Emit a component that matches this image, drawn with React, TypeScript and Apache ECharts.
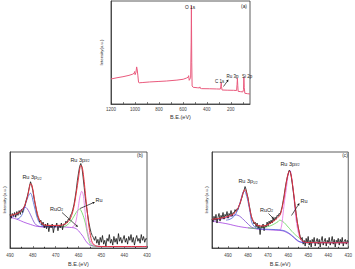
import React, { useEffect, useRef } from "react";
import * as echarts from "echarts";

const FONT = "'Liberation Sans', Arial, sans-serif";

// ---- Panel (a): survey spectrum [B.E. eV, intensity]
const surveyData: [number, number][] = [
  [1200, 24.3], [1150, 25.5], [1100, 26.5], [1050, 27.8], [1018, 29], [1006, 30], [1003, 31.5], [999, 28.5],
  [992, 30.5], [986, 36], [981, 33], [976, 28], [970, 21], [965, 20.6], [940, 20.8], [878, 21.4], [800, 21.9],
  [738, 22.3], [650, 23.2], [598, 24], [570, 25.2], [556, 26], [552, 27.5], [547, 23], [540, 24.5], [535, 26],
  [531, 60], [529, 95], [526, 40], [523, 17.5], [514, 16.2], [480, 15.8], [462, 15.6], [458, 16.6], [455, 15.3],
  [444, 14.9], [380, 14.8], [318, 14.6], [288, 14.5], [284, 16.5], [280, 20.7], [278, 17], [273, 13.6], [230, 13.4],
  [178, 13.3], [152, 13.1], [148, 19], [145, 25], [142, 18], [139, 12.3], [120, 12], [100, 11.7], [94, 14], [91, 26],
  [88, 16], [83, 10.4], [60, 10], [40, 9.7],
];
const surveyTicks = [200, 400, 600, 800, 1000, 1200];
const surveyMinorTicks = [100, 200, 300, 400, 500, 600, 700, 800, 900, 1000, 1100, 1200];

// ---- Panel (b): Ru 3p, raw counts from 490 eV down to 430 eV every 0.5 eV
const bStart = 490;
const bRaw = [
  35, 31, 36, 33, 37, 32, 38, 34, 39, 35,
  40, 37, 42, 44, 49, 53, 58, 64, 69, 65,
  60, 52, 46, 40, 34, 31, 27, 29, 24, 27,
  21, 25, 20, 26, 17, 24, 21, 25, 16, 23,
  22, 26, 18, 24, 21, 26, 19, 25, 24, 28,
  26, 30, 29, 34, 36, 40, 45, 52, 60, 70,
  78, 85, 88, 84, 74, 63, 52, 43, 35, 27,
  21, 16, 13, 11, 8, 12, 5, 9, 3, 11,
  6, 13, 4, 8, 2, 10, 7, 14, 5, 9,
  3, 12, 6, 10, 4, 15, 7, 11, 5, 9,
  13, 6, 10, 4, 12, 8, 14, 6, 11, 3,
  9, 13, 7, 10, 5, 14, 8, 12, 6, 10,
  9,
];
const bEnvelope: [number, number][] = [
  [490, 34], [488, 35], [486, 37], [485, 39], [484, 42], [483, 48], [482, 57], [481.5, 63], [481, 67], [480.5, 66],
  [480, 61], [479.5, 54], [479, 47], [478, 36], [477, 29], [476, 25.5], [475, 24], [472, 23.5], [469, 23.5], [467, 24],
  [466, 25], [465, 26.5], [464, 29], [463, 34], [462, 43], [461, 57], [460, 73], [459.4, 83], [458.9, 86], [458.4, 84],
  [458, 79], [457.5, 69], [457, 57], [456.5, 45], [456, 34], [455.5, 24], [455, 16], [454.5, 10], [454, 6], [453, 3],
  [452, 2], [450, 1.6], [440, 1.5], [430, 1.5],
];
const bBackground: [number, number][] = [
  [490, 32], [487, 30], [484, 27], [481, 24.5], [478, 22.5], [474, 22], [468, 22], [464, 21.5], [462, 21], [461, 20],
  [460, 18], [459, 15], [458, 12], [457, 8], [456, 5], [455, 3], [453, 2], [450, 1.5], [440, 1.5], [430, 1.5],
];
const bRu12: [number, number][] = [
  [487, 30], [485.5, 32], [484.5, 36], [483.5, 43], [482.5, 51], [481.5, 56], [481, 57], [480.5, 55], [480, 50],
  [479, 40], [478, 31], [477, 26], [476, 23.5], [474, 22.5], [470, 22],
];
const bRuO2_12: [number, number][] = [
  [490, 32], [488, 33], [486.5, 36], [485, 40], [484, 42], [483.4, 42.5], [482.5, 41], [481.5, 37], [480.5, 32],
  [479.5, 27], [478.5, 24], [477, 22.5], [474, 22],
];
const bRuO2_32: [number, number][] = [
  [468, 22], [466, 22.5], [465, 24], [464, 26], [463, 29], [462, 33], [461, 37], [460, 40], [459.5, 40.5], [459, 39.5],
  [458, 34], [457, 26], [456.5, 20], [456, 14], [455.5, 9], [455, 5], [454, 2.5], [452, 1.8],
];
const bRu32: [number, number][] = [
  [463, 21.5], [462, 23], [461.5, 25], [461, 29], [460.5, 36], [460, 44], [459.5, 52], [459, 57], [458.6, 59], [458, 56],
  [457.5, 47], [457, 35], [456.5, 24], [456, 17], [455.5, 12], [455, 8], [454, 4], [453, 2.2],
];

// ---- Panel (c): Ru 3p, raw counts from 498 eV down to 430 eV every 0.5 eV
const cStart = 498;
const cRaw = [
  30, 27, 33, 29, 35, 26, 32, 36, 28, 34,
  31, 37, 30, 35, 33, 38, 31, 36, 34, 39,
  33, 37, 36, 40, 38, 41, 40, 44, 46, 50,
  53, 57, 60, 64, 61, 56, 52, 45, 40, 34,
  30, 28, 25, 27, 22, 26, 20, 24, 14, 23,
  21, 25, 18, 24, 22, 27, 23, 28, 25, 29,
  26, 31, 28, 32, 30, 34, 33, 36, 35, 39,
  43, 49, 55, 62, 68, 73, 77, 81, 80, 75,
  68, 60, 52, 43, 36, 28, 22, 17, 12, 9,
  11, 4, 8, 2, 10, 5, 12, 3, 8, 1,
  9, 6, 11, 2, 7, 10, 4, 9, 1, 8,
  12, 3, 7, 10, 2, 8, 5, 11, 3, 7,
  12, 4, 9, 1, 8, 6, 10, 3, 9, 5,
  11, 2, 7, 9, 4, 8, 6,
];
const cEnvelope: [number, number][] = [
  [498, 30], [494, 31], [490, 33], [487, 36], [485.5, 40], [484.5, 44], [483.5, 50], [482.7, 56], [482, 60], [481.5, 61],
  [481, 59], [480.3, 54], [479.5, 45], [478.8, 37], [478, 31], [477, 27], [476, 24.5], [474, 23], [472, 23], [470, 24.5],
  [468, 27], [466, 30], [465, 32], [464, 34.5], [463.3, 39], [462.7, 45], [462, 53], [461.3, 63], [460.6, 72], [460, 77.5],
  [459.4, 80], [458.8, 78], [458.2, 72], [457.6, 63], [457, 53], [456.4, 42], [455.8, 32], [455.2, 24], [454.5, 16],
  [454, 11], [453.2, 8], [452, 6.3], [450, 5.7], [440, 5.5], [430, 5.5],
];
const cBackground: [number, number][] = [
  [498, 28], [494, 26.5], [490, 25], [486, 23], [482, 21.5], [478, 20.5], [474, 19.5], [470, 19], [466, 18.5], [463, 18],
  [461, 16.5], [459, 14], [457.5, 11.5], [456, 8.5], [454.5, 6.5], [453, 5.8], [450, 5.5], [440, 5.5], [430, 5.5],
];
const cRu12: [number, number][] = [
  [491, 29], [489, 30], [487, 33], [485.5, 38], [484.5, 44], [483.5, 51], [482.7, 57], [482.2, 59], [481.7, 59], [481, 56],
  [480, 48], [479, 37], [478.3, 28], [477.5, 24], [476, 21], [474, 20], [470, 19.5], [463, 18.5], [460, 16], [457, 11],
  [455, 7.5], [453, 6], [445, 5.7], [430, 5.7],
];
const cRuO2_12: [number, number][] = [
  [498, 29], [494, 30], [490, 32], [488, 33.5], [486.5, 34.5], [485, 34], [483.5, 32], [482, 29], [480.5, 26], [479, 23],
  [477.5, 21], [475, 20],
];
const cRuO2_32: [number, number][] = [
  [480, 21], [476, 20.5], [472, 21.5], [469, 23], [467, 25], [465, 27.5], [464.3, 29], [463.5, 28.5], [462, 26.5],
  [460.5, 23], [459.4, 20.5], [458, 17], [457, 15], [456, 13], [454.5, 10.5], [453, 7.5], [451, 6], [448, 5.6],
];
const cRu32: [number, number][] = [
  [465, 18.5], [464, 19], [463.5, 21], [463, 27], [462.3, 40], [461.6, 52], [461, 60], [460.3, 72], [459.7, 79], [459.1, 81],
  [458.5, 77], [457.8, 66], [457, 50], [456.3, 34], [455.5, 22], [454.8, 15], [454, 10], [453, 7], [451, 6],
];

const COLORS = {
  survey: "#ea5a7d",
  raw: "#111111",
  envelope: "#e5323f",
  ru12: "#4a62d8",
  ruo2_12: "#7b47cf",
  ruo2_32: "#62d45a",
  ru32: "#e36ee6",
  bg: "#a33fe0",
};

const toPairs = (start: number, vals: number[]): [number, number][] =>
  vals.map((v, i) => [start - i * 0.5, v]);

function lineSeries(data: [number, number][], color: string, width: number, idx: number, smooth: number | boolean, z = 2) {
  return {
    type: "line",
    data,
    xAxisIndex: idx,
    yAxisIndex: idx,
    symbol: "none",
    showSymbol: false,
    smooth,
    silent: true,
    z,
    lineStyle: { color, width },
  };
}

const plainLabel = (v: number) => String(v);

function xAxisCfg(idx: number, min: number, max: number, extra: any, nameGap: number, labelMargin: number) {
  return {
    gridIndex: idx,
    type: "value",
    inverse: true,
    min,
    max,
    name: "B.E.(eV)",
    nameLocation: "middle",
    nameGap,
    nameTextStyle: { fontSize: 5.5, color: "#333", fontFamily: FONT },
    axisLine: { show: true, onZero: false, lineStyle: { color: "#333", width: 0.8 } },
    axisTick: { show: true, inside: true, length: 2, lineStyle: { color: "#333", width: 0.6 } },
    splitLine: { show: false },
    axisLabel: { fontSize: 4.5, color: "#444", margin: labelMargin, fontFamily: FONT, formatter: plainLabel },
    ...extra,
  };
}

function yAxisCfg(idx: number, name: string, nameGap: number) {
  return {
    gridIndex: idx,
    type: "value",
    min: 0,
    max: 100,
    name,
    nameLocation: "middle",
    nameRotate: 90,
    nameGap,
    nameTextStyle: { fontSize: 4.3, color: "#333", fontFamily: FONT },
    axisLine: { show: true, lineStyle: { color: "#333", width: 0.8 } },
    axisTick: { show: false },
    axisLabel: { show: false },
    splitLine: { show: false },
  };
}

const txt = (x: number, y: number, text: string, fontSize = 5, rich?: any) => ({
  type: "text",
  x,
  y,
  z: 100,
  silent: true,
  style: {
    text,
    fontSize,
    fontFamily: FONT,
    fill: "#222",
    textAlign: "center",
    textVerticalAlign: "middle",
    align: "center",
    verticalAlign: "middle",
    ...(rich ? { rich } : {}),
  },
});

const subRich = {
  a: { fontSize: 5.5, fontFamily: FONT, fill: "#222", color: "#222" },
  s: { fontSize: 3.3, fontFamily: FONT, fill: "#222", color: "#222", padding: [3, 0, 0, 0] },
};

function arrow(x1: number, y1: number, x2: number, y2: number) {
  const ang = Math.atan2(y2 - y1, x2 - x1);
  const L = 2.5;
  const W = 1.2;
  const bx = x2 - L * Math.cos(ang);
  const by = y2 - L * Math.sin(ang);
  const px = -Math.sin(ang) * W;
  const py = Math.cos(ang) * W;
  return [
    { type: "line", z: 100, silent: true, shape: { x1, y1, x2: bx, y2: by }, style: { stroke: "#111", lineWidth: 0.7 } },
    {
      type: "polygon",
      z: 100,
      silent: true,
      shape: { points: [[x2, y2], [bx + px, by + py], [bx - px, by - py]] },
      style: { fill: "#111" },
    },
  ];
}

export default function App() {
  const ref = useRef<HTMLDivElement>(null);

  useEffect(() => {
    if (!ref.current) return;
    const chart = echarts.init(ref.current, null, { renderer: "svg" });

    const gridBase = { show: true, borderColor: "#333", borderWidth: 0.8, backgroundColor: "transparent", containLabel: false };

    const option: any = {
      animation: false,
      backgroundColor: "#ffffff",
      textStyle: { fontFamily: FONT },
      grid: [
        { ...gridBase, left: 111, top: 1, width: 139, height: 103 },
        { ...gridBase, left: 10, top: 152, width: 137, height: 96 },
        { ...gridBase, left: 212, top: 152, width: 137, height: 96 },
      ],
      xAxis: [
        xAxisCfg(0, 40, 1200, {
          axisLabel: { fontSize: 4.5, color: "#444", margin: 2.5, fontFamily: FONT, customValues: surveyTicks, formatter: plainLabel },
          axisTick: { show: true, inside: true, length: 2, customValues: surveyMinorTicks, lineStyle: { color: "#333", width: 0.6 } },
        }, 10, 2.5),
        xAxisCfg(1, 430, 490, { interval: 10, minorTick: { show: true, splitNumber: 2, length: 1.2 } }, 13, 5),
        xAxisCfg(2, 430, 498, { interval: 10, axisLabel: { fontSize: 4.5, color: "#444", margin: 5, fontFamily: FONT, showMaxLabel: false, formatter: plainLabel }, minorTick: { show: true, splitNumber: 2, length: 1.2 } }, 13, 5),
      ],
      yAxis: [yAxisCfg(0, "Intensity(a.u.)", 8), yAxisCfg(1, "Intensity (a.u.)", 4), yAxisCfg(2, "Intensity (a.u.)", 3.5)],
      series: [
        lineSeries(surveyData, COLORS.survey, 1, 0, false),

        lineSeries(bBackground, COLORS.bg, 0.8, 1, 0.4, 2),
        lineSeries(bRuO2_12, COLORS.ruo2_12, 0.8, 1, 0.4, 2),
        lineSeries(bRu12, COLORS.ru12, 0.8, 1, 0.4, 2),
        lineSeries(bRuO2_32, COLORS.ruo2_32, 0.8, 1, 0.4, 2),
        lineSeries(bRu32, COLORS.ru32, 0.8, 1, 0.4, 2),
        lineSeries(toPairs(bStart, bRaw), COLORS.raw, 0.8, 1, false, 3),
        lineSeries(bEnvelope, COLORS.envelope, 1, 1, 0.4, 4),

        lineSeries(cBackground, COLORS.bg, 0.8, 2, 0.4, 2),
        lineSeries(cRuO2_12, COLORS.ruo2_12, 0.8, 2, 0.4, 2),
        lineSeries(cRuO2_32, COLORS.ruo2_32, 0.8, 2, 0.4, 2),
        lineSeries(cRu32, COLORS.ru32, 0.8, 2, 0.4, 2),
        lineSeries(toPairs(cStart, cRaw), COLORS.raw, 0.8, 2, false, 3),
        lineSeries(cRu12, COLORS.ru12, 0.8, 2, 0.4, 3),
        lineSeries(cEnvelope, COLORS.envelope, 1, 2, 0.4, 4),
      ],
      graphic: [
        // panel (a)
        txt(190, 7.5, "O 1s", 4.8),
        txt(244, 6, "(a)", 4.8),
        txt(219.5, 81, "C 1s", 4.5),
        txt(232.5, 76, "Ru 3p", 4.5),
        txt(247, 76, "Si 2p", 4.5),
        ...arrow(223.5, 86.5, 228.5, 79.5),
        // panel (b)
        txt(140, 155.5, "(b)", 4.8),
        txt(80, 159.5, "{a|Ru 3p}{s|3/2}", 5.5, subRich),
        txt(32, 177, "{a|Ru 3p}{s|1/2}", 5.5, subRich),
        txt(56.5, 208.5, "{a|RuO}{s|2}", 5.5, subRich),
        txt(99, 200, "Ru", 5.5),
        ...arrow(62, 212.5, 78, 227),
        ...arrow(80, 208.5, 95, 202),
        // panel (c)
        txt(345, 155.5, "(c)", 4.8),
        txt(290, 163.5, "{a|Ru 3p}{s|3/2}", 5.5, subRich),
        txt(248, 181, "{a|Ru 3p}{s|1/2}", 5.5, subRich),
        txt(266.5, 209.5, "{a|RuO}{s|2}", 5.5, subRich),
        txt(304, 201, "Ru", 5.5),
        ...arrow(268.5, 213.5, 274, 219),
        ...arrow(291.5, 215.5, 299.5, 203),
      ],
    };

    chart.setOption(option);
    return () => {
      chart.dispose();
    };
  }, []);

  return (
    <div
      ref={ref}
      style={{ position: "absolute", left: 0, top: 0, width: 355, height: 269, background: "#fff" }}
    />
  );
}
